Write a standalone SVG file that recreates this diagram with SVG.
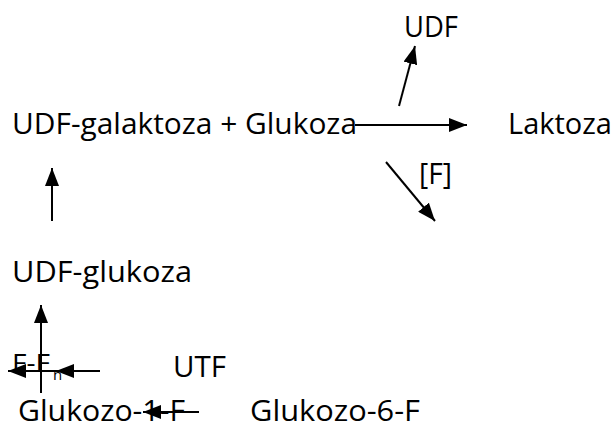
<svg xmlns="http://www.w3.org/2000/svg" width="616" height="429" viewBox="0 0 616 429">
<defs>
<marker id="ah" viewBox="0 0 18 14" refX="18" refY="7" markerWidth="18" markerHeight="14" markerUnits="userSpaceOnUse" orient="auto">
<path d="M0,0 L18,7 L0,14 z" fill="#000"/>
</marker>
<style>
.t{font-family:"Open Sans","Noto Sans","Liberation Sans",sans-serif;font-size:30px;fill:#000}
.s{font-size:25px}
.c line{stroke:#000;stroke-width:2;marker-end:url(#ah)}
</style>
</defs>
<rect width="616" height="429" fill="#fff"/>
<g id="udf-galaktoza"><text class="t" x="12" y="134" textLength="345" lengthAdjust="spacingAndGlyphs">UDF-galaktoza + Glukoza</text></g>
<g id="laktoza"><text class="t" x="508" y="134" textLength="104" lengthAdjust="spacingAndGlyphs">Laktoza</text></g>
<g id="udf"><text class="t" x="404" y="37" textLength="54" lengthAdjust="spacingAndGlyphs">UDF</text></g>
<g id="f"><text class="t" x="419" y="184" textLength="33" lengthAdjust="spacingAndGlyphs">[F]</text></g>
<g id="udf-glukoza"><text class="t" x="12" y="282" textLength="180" lengthAdjust="spacingAndGlyphs">UDF-glukoza</text></g>
<g id="ffn"><text class="t s" x="12" y="372"><tspan textLength="38" lengthAdjust="spacingAndGlyphs">F-F</tspan><tspan x="53" font-size="15" dy="8">n</tspan></text></g>
<g id="utf"><text class="t" x="173" y="377" textLength="53" lengthAdjust="spacingAndGlyphs">UTF</text></g>
<g id="glukozo-1-f"><text class="t" x="18" y="421" textLength="167" lengthAdjust="spacingAndGlyphs">Glukozo-1-F</text></g>
<g id="glukozo-6-f"><text class="t" x="250" y="421" textLength="170" lengthAdjust="spacingAndGlyphs">Glukozo-6-F</text></g>
<g id="connectors" class="c">
<line x1="355" y1="125" x2="467" y2="125"/>
<line x1="399" y1="106" x2="415" y2="46"/>
<line x1="386" y1="162" x2="435" y2="221"/>
<line x1="52" y1="221" x2="52" y2="168"/>
<line x1="41" y1="393" x2="41" y2="305"/>
<line x1="100" y1="371" x2="56" y2="371"/>
<line x1="56" y1="371" x2="8" y2="371"/>
<line x1="199" y1="412" x2="143" y2="412"/>
</g>
</svg>
